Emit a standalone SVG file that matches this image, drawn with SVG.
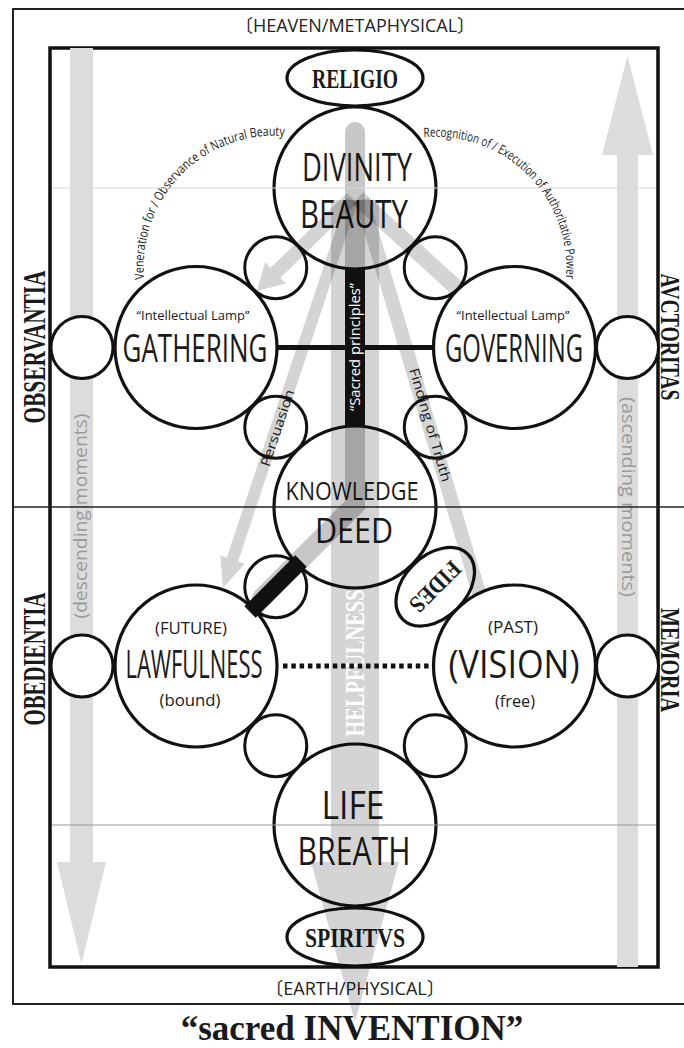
<svg xmlns="http://www.w3.org/2000/svg" width="684" height="1048" viewBox="0 0 684 1048">
<style>
.node{fill:#fff;stroke:#111;stroke-width:3.2}
.small{fill:#fff;stroke:#111;stroke-width:3}
.lbl{font-family:"Open Sans","Liberation Sans",sans-serif;fill:#1a1a1a;text-anchor:middle}
.big{font-size:38px}
.sub{font-size:17px}
.lamp{font-size:13.5px}
.serif{font-family:"Liberation Serif","DejaVu Serif",serif;font-weight:bold;fill:#1a1a1a;text-anchor:middle}
.ray{fill:#000;fill-opacity:0.17}
.band{fill:#dcdcdc}
.bandtxt{font-family:"Open Sans",sans-serif;font-size:18px;fill:#9a9a9a;text-anchor:middle}
.arc{font-family:"Open Sans",sans-serif;font-size:13px;fill:#222}
.edge{font-family:"Open Sans","Noto Sans CJK JP",sans-serif;font-size:18px;fill:#222;text-anchor:middle}
</style>
<defs>
<path id="arcL" d="M144.25,279.25 A131,131 0 0 1 289.55,136.5"/>
<path id="arcR" d="M423.85,137.25 A131,131 0 0 1 565.75,279.2"/>
</defs>
<rect width="684" height="1048" fill="#fff"/>
<g id="frame">
<rect x="13" y="9" width="690" height="995" fill="none" stroke="#222" stroke-width="2"/>
<rect x="50" y="48" width="608" height="919" fill="none" stroke="#111" stroke-width="3.5"/>
<text class="edge" x="355" y="32">〔HEAVEN/METAPHYSICAL〕</text>
<text class="edge" x="355" y="995">〔EARTH/PHYSICAL〕</text>
<text class="serif" x="352" y="1040" font-size="35">“sacred INVENTION”</text>
<text class="serif" font-size="31" textLength="153" lengthAdjust="spacingAndGlyphs" transform="translate(45,347) rotate(-90)">OBSERVANTIA</text>
<text class="serif" font-size="31" textLength="133" lengthAdjust="spacingAndGlyphs" transform="translate(45,659) rotate(-90)">OBEDIENTIA</text>
<text class="serif" font-size="27" textLength="127" lengthAdjust="spacingAndGlyphs" transform="translate(661,337) rotate(90)">AVCTORITAS</text>
<text class="serif" font-size="27" textLength="104" lengthAdjust="spacingAndGlyphs" transform="translate(661,660) rotate(90)">MEMORIA</text>
</g>
<g id="side-arrows">
<polygon class="band" points="70,48 70,862 57,862 81.5,964 106,862 93,862 93,48"/>
<polygon class="band" points="617,967 617,155 602,155 627.5,56 653,155 638,155 638,967"/>
<text class="bandtxt" textLength="205" lengthAdjust="spacingAndGlyphs" transform="translate(87,516) rotate(-90)">(descending moments)</text>
<text class="bandtxt" textLength="200" lengthAdjust="spacingAndGlyphs" transform="translate(622,497) rotate(90)">(ascending moments)</text>
</g>
<g id="arc-labels">
<text class="arc"><textPath href="#arcL" textLength="228" lengthAdjust="spacingAndGlyphs">Veneration for / Observance of Natural Beauty</textPath></text>
<text class="arc"><textPath href="#arcR" textLength="228" lengthAdjust="spacingAndGlyphs">Recognition of / Execution of Authoritative Power</textPath></text>
</g>
<g id="nodes">
<g id="religio"><ellipse class="node" cx="355" cy="78" rx="68" ry="28"/><text class="serif" x="355" y="88" font-size="27" textLength="86" lengthAdjust="spacingAndGlyphs">RELIGIO</text></g>
<g id="divinity"><circle class="node" cx="355" cy="188" r="81"/>
<text class="lbl big" x="357" y="181" textLength="110" lengthAdjust="spacingAndGlyphs">DIVINITY</text>
<text class="lbl big" x="354" y="228" textLength="108" lengthAdjust="spacingAndGlyphs">BEAUTY</text></g>
<g id="gathering"><circle class="node" cx="196" cy="347.5" r="81"/>
<text class="lbl lamp" x="193" y="320" textLength="113" lengthAdjust="spacingAndGlyphs">“Intellectual Lamp”</text>
<text class="lbl big" x="195" y="362" textLength="145" lengthAdjust="spacingAndGlyphs">GATHERING</text></g>
<g id="governing"><circle class="node" cx="514.5" cy="347.5" r="81"/>
<text class="lbl lamp" x="513" y="320" textLength="113" lengthAdjust="spacingAndGlyphs">“Intellectual Lamp”</text>
<text class="lbl big" x="514" y="362" textLength="138" lengthAdjust="spacingAndGlyphs">GOVERNING</text></g>
<g id="knowledge"><circle class="node" cx="355" cy="507" r="81"/>
<text class="lbl" x="352" y="500" font-size="26" textLength="133" lengthAdjust="spacingAndGlyphs">KNOWLEDGE</text>
<text class="lbl" x="354" y="543" font-size="35" textLength="78" lengthAdjust="spacingAndGlyphs">DEED</text></g>
<g id="lawfulness"><circle class="node" cx="196" cy="666" r="81"/>
<text class="lbl sub" x="191" y="634" textLength="72" lengthAdjust="spacingAndGlyphs">(FUTURE)</text>
<text class="lbl big" x="194" y="678" textLength="137" lengthAdjust="spacingAndGlyphs">LAWFULNESS</text>
<text class="lbl sub" x="190" y="706" textLength="61" lengthAdjust="spacingAndGlyphs">(bound)</text></g>
<g id="vision"><circle class="node" cx="514.5" cy="666" r="81"/>
<text class="lbl sub" x="513" y="633" textLength="50" lengthAdjust="spacingAndGlyphs">(PAST)</text>
<text class="lbl" x="514" y="678" font-size="39" textLength="131" lengthAdjust="spacingAndGlyphs">(VISION)</text>
<text class="lbl sub" x="515" y="707" textLength="40" lengthAdjust="spacingAndGlyphs">(free)</text></g>
<g id="life"><circle class="node" cx="355" cy="825" r="81"/>
<text class="lbl big" x="353" y="819" textLength="63" lengthAdjust="spacingAndGlyphs">LIFE</text>
<text class="lbl big" x="354" y="865" textLength="113" lengthAdjust="spacingAndGlyphs">BREATH</text></g>
<g id="spiritvs"><ellipse class="node" cx="355" cy="937" rx="68" ry="29"/><text class="serif" x="355" y="947" font-size="27" textLength="100" lengthAdjust="spacingAndGlyphs">SPIRITVS</text></g>
<g id="fides" transform="translate(435.25,586.75) rotate(135)"><ellipse class="node" cx="0" cy="0" rx="46" ry="31"/><text class="serif" x="0" y="8" font-size="24" textLength="62" lengthAdjust="spacingAndGlyphs">FIDES</text></g>
<g id="observantia-circle"><circle class="small" cx="82" cy="347.5" r="31"/></g>
<g id="auctoritas-circle"><circle class="small" cx="627.5" cy="347.5" r="31"/></g>
<g id="obedientia-circle"><circle class="small" cx="82" cy="666" r="31"/></g>
<g id="memoria-circle"><circle class="small" cx="627.5" cy="666" r="31"/></g>
<g id="veneration-circle"><circle class="small" cx="275.75" cy="267.75" r="31"/></g>
<g id="recognition-circle"><circle class="small" cx="435.25" cy="267.75" r="31"/></g>
<g id="persuasion-circle"><circle class="small" cx="275.75" cy="427.25" r="31"/></g>
<g id="finding-circle"><circle class="small" cx="435.25" cy="427.25" r="31"/></g>
<g id="bar-circle"><circle class="small" cx="275.75" cy="586.75" r="31"/></g>
<g id="lower-left-circle"><circle class="small" cx="275.75" cy="745.75" r="31"/></g>
<g id="lower-right-circle"><circle class="small" cx="435.25" cy="745.75" r="31"/></g>
</g>
<g id="rays">
<polygon class="ray" points="331,200 331,862 311,862 355,1022 399,862 379,862 379,200"/>
<polygon class="ray" points="347.1,193 270.68,267.81 265.08,262.09 257,291 286.08,283.53 280.48,277.81 356.9,203"/>
<polygon class="ray" points="352.61,203.92 453.61,295.92 464.39,284.08 363.39,192.08"/>
<polygon class="ray" points="346.31,198.11 226.78,557.64 220.13,555.43 223,588 244.81,563.63 238.16,561.42 357.69,201.89"/>
<polygon class="ray" points="355.29,202 472.29,595 485.71,591 368.71,198"/>
<path d="M355,132 V505 L262,598" fill="none" stroke="#000" stroke-opacity="0.22" stroke-width="20" stroke-linecap="round"/>
<text class="serif" font-size="28" style="fill:#fff" textLength="147" lengthAdjust="spacingAndGlyphs" transform="translate(364,663) rotate(-90)">HELPFULNESS</text>
<text class="lbl" font-size="13.5" textLength="80" lengthAdjust="spacingAndGlyphs" transform="translate(277.5,428) rotate(-71.6)" dy="4.5">Persuasion</text>
<text class="lbl" font-size="13.5" textLength="118" lengthAdjust="spacingAndGlyphs" transform="translate(430,425) rotate(73.7)" dy="4.5">Finding of Truth</text>
</g>
<g id="connectors">
<line x1="277" y1="347.5" x2="433.5" y2="347.5" stroke="#111" stroke-width="5"/>
<line x1="283" y1="666" x2="430" y2="666" stroke="#111" stroke-width="5" stroke-dasharray="4.5 3.8"/>
<rect x="345" y="268" width="20" height="159" fill="#111"/>
<text class="lbl" font-size="15" style="fill:#fff" textLength="128" lengthAdjust="spacingAndGlyphs" transform="translate(360,347) rotate(-90)">“Sacred principles”</text>
<line x1="250" y1="612" x2="301" y2="561" stroke="#111" stroke-width="16"/>
</g>
<g id="guides">
<line x1="52" y1="188" x2="656" y2="188" stroke="#d8d8d8" stroke-width="1"/>
<line x1="13" y1="507" x2="684" y2="507" stroke="#222" stroke-width="1.5"/>
<line x1="52" y1="825" x2="656" y2="825" stroke="#999" stroke-width="1"/>
</g>
</svg>
